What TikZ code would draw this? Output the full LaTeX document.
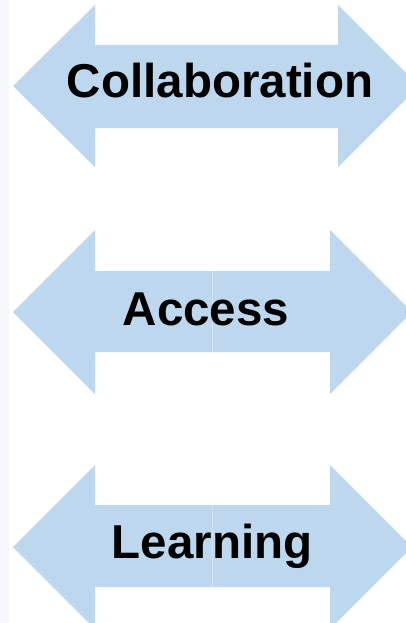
\documentclass[tikz,border=0pt]{standalone}
\usepackage{fontspec}
\setmainfont{Liberation Sans}
\definecolor{arrowfill}{HTML}{BDD7EE}
\definecolor{seam}{HTML}{D2E3F3}
\definecolor{edgegray}{HTML}{F6F8FB}
\begin{document}
\begin{tikzpicture}[x=1pt,y=-1pt,
  dblarrow/.style={fill=arrowfill},
  label/.style={anchor=base,inner sep=0pt,font=\fontsize{47.5}{47.5}\selectfont\bfseries,text=black}]
\useasboundingbox (0,0) rectangle (406,623);
\fill[white] (0,0) rectangle (406,623);
\fill[edgegray] (0,0) rectangle (9,623);
\begin{scope}
\clip (0,0) rectangle (406,623);
% arrow 1
\fill[dblarrow] (13,86) -- (95,5) -- (95,45) -- (338,45) -- (338,5) -- (419,86)
  -- (338,167) -- (338,128) -- (95,128) -- (95,167) -- cycle;
% arrow 2
\fill[dblarrow] (13,312) -- (95,230) -- (95,271) -- (330,271) -- (330,230) -- (412,312)
  -- (330,394) -- (330,352) -- (95,352) -- (95,394) -- cycle;
\draw[seam,line width=0.6pt] (212,271) -- (212,352);
% arrow 3
\fill[dblarrow] (13,547) -- (95,465) -- (95,505) -- (330,505) -- (330,465) -- (412,547)
  -- (330,629) -- (330,587) -- (95,587) -- (95,629) -- cycle;
\draw[seam,line width=0.6pt] (212,505) -- (212,587);
\end{scope}
\node[label] (collab) at (220,98) {Collaboration};
\node[label] (access) at (206,325) {Access};
\node[label] (learn) at (212,558) {Learning};
\end{tikzpicture}
\end{document}
